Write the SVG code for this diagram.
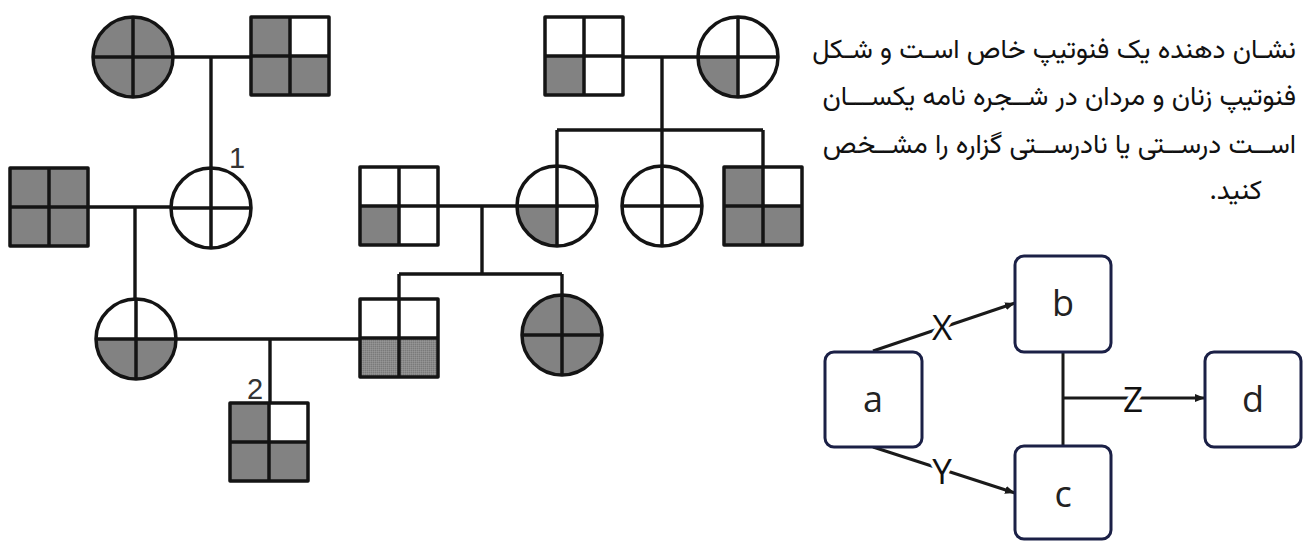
<svg xmlns="http://www.w3.org/2000/svg" xmlns:xlink="http://www.w3.org/1999/xlink" width="1304" height="541" viewBox="0 0 1304 541">
<style>
.ln{stroke:#141414;stroke-width:3.4;fill:none;stroke-linecap:butt}
.ol{stroke:#141414;stroke-width:3.5;fill:none}
.g{fill:#828282}
.st{fill:url(#stip)}
.w{fill:#fff}
.num{font-family:"Liberation Sans",Arial,sans-serif;font-size:29px;fill:#333}
.fa{font-family:"Vazirmatn","Noto Sans Arabic","DejaVu Sans",sans-serif;font-size:27px;fill:#111}
.box{fill:#fff;stroke:#1b2046;stroke-width:3}
.bl{font-family:"Open Sans","Noto Sans",sans-serif;font-size:36px;fill:#222;text-anchor:middle;dominant-baseline:central}
.el{font-family:"Open Sans","Noto Sans",sans-serif;font-size:35px;fill:#111;text-anchor:middle;dominant-baseline:central;stroke:#fff;stroke-width:8;paint-order:stroke}
.cn{stroke:#1a1a1a;stroke-width:3;fill:none}
</style>
<defs>
<pattern id="stip" width="2" height="2" patternUnits="userSpaceOnUse">
<rect width="2" height="2" fill="#8a8a8a"/>
<rect width="1" height="1" fill="#7a7a7a"/>
<rect x="1" y="1" width="1" height="1" fill="#969696"/>
</pattern>
<path id="cTL" d="M0,0 L-40,0 A40,40 0 0 1 0,-40 Z"/>
<path id="cTR" d="M0,0 L0,-40 A40,40 0 0 1 40,0 Z"/>
<path id="cBR" d="M0,0 L40,0 A40,40 0 0 1 0,40 Z"/>
<path id="cBL" d="M0,0 L0,40 A40,40 0 0 1 -40,0 Z"/>
<g id="cOut"><circle r="40" class="ol"/><path d="M-40,0H40M0,-40V40" class="ol"/></g>
<rect id="sTL" x="-39" y="-39" width="39" height="39"/>
<rect id="sTR" x="0" y="-39" width="39" height="39"/>
<rect id="sBL" x="-39" y="0" width="39" height="39"/>
<rect id="sBR" x="0" y="0" width="39" height="39"/>
<g id="sOut"><rect x="-39" y="-39" width="78" height="78" class="ol" stroke-linejoin="round"/><path d="M-39,0H39M0,-39V39" class="ol"/></g>
<marker id="arr" viewBox="0 0 10 10" refX="10" refY="5" markerWidth="10" markerHeight="10" markerUnits="userSpaceOnUse" orient="auto">
<path d="M0,1 L10,5 L0,9 Z" fill="#1a1a1a"/>
</marker>
</defs>
<rect width="1304" height="541" fill="#fff"/>

<g id="connectors">
<path class="ln" d="M173,57H252M211,57V168"/>
<path class="ln" d="M623,57H698M662,57V130M557,130H763M557,130V166M662,130V166M763,130V167"/>
<path class="ln" d="M88,207H171M135,207V298"/>
<path class="ln" d="M438,206H517M482,206V274M399,274H562M399,274V299M562,274V295"/>
<path class="ln" d="M177,339H360M270,339V403"/>
</g>

<g id="pedigree">
<g id="I1" transform="translate(133,57)"><circle r="40" class="g"/><use xlink:href="#cOut"/></g>
<g id="I2" transform="translate(290,56)"><use xlink:href="#sTL" class="g"/><use xlink:href="#sBL" class="g"/><use xlink:href="#sBR" class="g"/><use xlink:href="#sOut"/></g>
<g id="I3" transform="translate(584,56)"><use xlink:href="#sBL" class="g"/><use xlink:href="#sOut"/></g>
<g id="I4" transform="translate(738,57)"><use xlink:href="#cBL" class="g"/><use xlink:href="#cOut"/></g>

<g id="II1" transform="translate(49,207)"><rect x="-39" y="-39" width="78" height="78" class="g"/><use xlink:href="#sOut"/></g>
<g id="II2" transform="translate(211,208)"><circle r="40" class="w"/><use xlink:href="#cOut"/></g>
<text class="num" x="229" y="168">1</text>
<g id="II3" transform="translate(399,206)"><use xlink:href="#sBL" class="g"/><use xlink:href="#sOut"/></g>
<g id="II4" transform="translate(557,206)"><use xlink:href="#cBL" class="g"/><use xlink:href="#cOut"/></g>
<g id="II5" transform="translate(662,206)"><use xlink:href="#cOut"/></g>
<g id="II6" transform="translate(763,206)"><use xlink:href="#sTL" class="g"/><use xlink:href="#sBL" class="g"/><use xlink:href="#sBR" class="g"/><use xlink:href="#sOut"/></g>

<g id="III1" transform="translate(136,339)"><use xlink:href="#cBL" class="g"/><use xlink:href="#cBR" class="g"/><use xlink:href="#cOut"/></g>
<g id="III2" transform="translate(399,338)"><use xlink:href="#sBL" class="st"/><use xlink:href="#sBR" class="st"/><use xlink:href="#sOut"/></g>
<g id="III3" transform="translate(562,335)"><circle r="40" class="g"/><use xlink:href="#cOut"/></g>

<g id="IV1" transform="translate(269,442)"><use xlink:href="#sTL" class="g"/><use xlink:href="#sBL" class="g"/><use xlink:href="#sBR" class="g"/><use xlink:href="#sOut"/></g>
<text class="num" x="247" y="399">2</text>
</g>

<g id="paragraph">
<text class="fa" x="1296" y="58" direction="rtl" text-anchor="start">نشـان دهنده یک فنوتیپ خاص اسـت و شـکل</text>
<text class="fa" x="1296" y="105" direction="rtl" text-anchor="start">فنوتیپ زنان و مردان در شــجره نامه یکســـان</text>
<text class="fa" x="1296" y="153" direction="rtl" text-anchor="start">اســت درســتی یا نادرســتی گزاره را مشــخص</text>
<text class="fa" x="1262" y="199" direction="rtl" text-anchor="start">کنید.</text>
</g>

<g id="flow-connectors">
<path class="cn" d="M873,351 L1015,303" marker-end="url(#arr)"/>
<path class="cn" d="M873,447 L1015,493" marker-end="url(#arr)"/>
<path class="cn" d="M1063,352 V446 M1063,398 H1205" marker-end="url(#arr)"/>
<text class="el" x="942" y="326">X</text>
<text class="el" x="942" y="470">Y</text>
<text class="el" x="1133" y="398">Z</text>
</g>

<g id="a"><rect class="box" x="825" y="352" width="97" height="95" rx="9"/><text class="bl" x="873" y="398">a</text></g>
<g id="b"><rect class="box" x="1015" y="256" width="96" height="96" rx="9"/><text class="bl" x="1063" y="302">b</text></g>
<g id="c"><rect class="box" x="1015" y="446" width="96" height="93" rx="9"/><text class="bl" x="1063" y="493">c</text></g>
<g id="d"><rect class="box" x="1205" y="352" width="96" height="95" rx="9"/><text class="bl" x="1253" y="398">d</text></g>
</svg>
